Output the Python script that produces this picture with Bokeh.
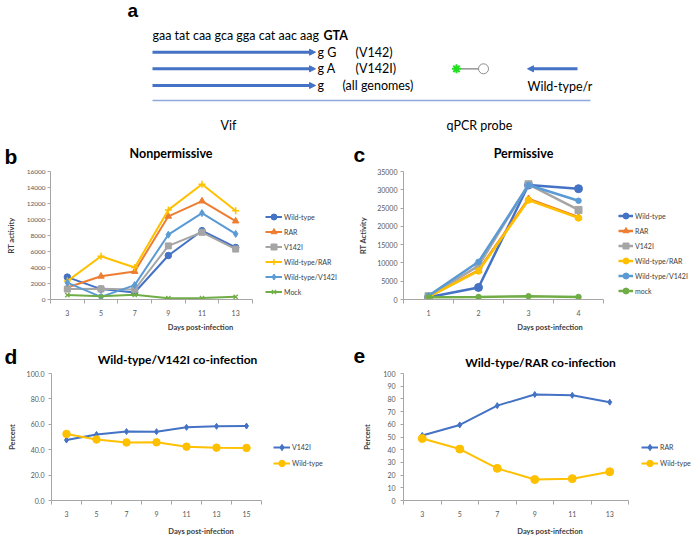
from bokeh.plotting import figure
from bokeh.models import (Range1d, FixedTicker, Legend, LegendItem, Arrow,
                          NormalHead, NumeralTickFormatter)
from bokeh.layouts import column, row
from bokeh.embed import file_html
from bokeh.resources import INLINE
from bokeh.core.properties import value

FONT = "Lato"
LETTER_FONT = "Liberation Sans"

# ---------------- data ----------------
# Panel b: Nonpermissive (RT activity)
days_b = [3, 5, 7, 9, 11, 13]
b_wild_type = [2800, 1300, 880, 5500, 8600, 6500]
b_rar = [1500, 2900, 3500, 10400, 12300, 9800]
b_v142i = [1300, 1330, 1250, 6700, 8400, 6300]
b_wt_rar = [2300, 5400, 4000, 11200, 14400, 11100]
b_wt_v142i = [2100, 330, 1800, 8100, 10800, 8200]
b_mock = [550, 400, 580, 170, 180, 330]

# Panel c: Permissive (RT Activity)
days_c = [1, 2, 3, 4]
c_wild_type = [600, 3300, 31300, 30300]
c_rar = [800, 8000, 27500, 22500]
c_v142i = [900, 9200, 31500, 24500]
c_wt_rar = [700, 7800, 27200, 22300]
c_wt_v142i = [1000, 10300, 31300, 27000]
c_mock = [600, 700, 900, 700]

# Panel d: Wild-type/V142I co-infection (percent)
days_d = [3, 5, 7, 9, 11, 13, 15]
d_v142i = [47.6, 52.0, 54.3, 54.2, 57.6, 58.4, 58.6]
d_wild_type = [52.4, 48.0, 45.7, 45.8, 42.4, 41.6, 41.4]

# Panel e: Wild-type/RAR co-infection (percent)
days_e = [3, 5, 7, 9, 11, 13]
e_rar = [51.2, 59.5, 74.7, 83.5, 82.8, 77.4]
e_wild_type = [48.8, 40.5, 25.3, 16.5, 17.2, 22.6]

# Panel a schematic texts
seq_plain = "gaa tat caa gca gga cat aac aag"
seq_bold = "GTA"
primer_ends = ["g G", "g A", "g"]
primer_names = ["(V142)", "(V142I)", "(all genomes)"]

BLUE = "#4472C4"
ORANGE = "#ED7D31"
GRAY = "#A5A5A5"
GOLD = "#FFC000"
LBLUE = "#5B9BD5"
GREEN = "#70AD47"
AXIS = "#A6A6A6"
TICKTXT = "#595959"
TXT = "#404040"
A_FS = "12.5px"


def chart(fx, fy, width, height, fl, ft, fb, axis_r, cats, y_max, y_step, ylabel,
          ytick_fs="7px", y_fmt=None, ylab_standoff=8, ytick_standoff=3,
          xlab_standoff=4):
    step = cats[1] - cats[0]
    lo = cats[0] - step / 2
    hi = cats[-1] + step / 2
    frame_w = fx + width - fl
    hi_ext = lo + (hi - lo) * frame_w / (axis_r - fl)
    p = figure(width=width, height=height, x_range=Range1d(lo, hi_ext),
               y_range=Range1d(0, y_max), output_backend="svg",
               toolbar_location=None, min_border_left=fl - fx, min_border_right=0,
               min_border_top=ft - fy, min_border_bottom=fy + height - fb)
    p.outline_line_color = None
    p.grid.visible = False
    bounds = [lo + step * i for i in range(len(cats) + 1)]
    xa = p.xaxis[0]
    xa.bounds = (lo, hi)
    xa.ticker = FixedTicker(ticks=cats, minor_ticks=bounds)
    xa.major_tick_in = 0
    xa.major_tick_out = 0
    xa.minor_tick_in = 0
    xa.minor_tick_out = 4
    xa.minor_tick_line_color = AXIS
    xa.axis_line_color = AXIS
    xa.major_label_text_font = FONT
    xa.major_label_text_font_size = "7px"
    xa.major_label_text_color = TICKTXT
    xa.major_label_standoff = 6
    xa.axis_label = "Days post-infection"
    xa.axis_label_text_font = FONT
    xa.axis_label_text_font_size = "7.5px"
    xa.axis_label_text_font_style = "bold"
    xa.axis_label_text_color = TXT
    xa.axis_label_standoff = xlab_standoff
    ya = p.yaxis[0]
    nt = int(round(y_max / y_step))
    ya.ticker = FixedTicker(ticks=[y_step * i for i in range(nt + 1)], minor_ticks=[])
    ya.major_tick_in = 0
    ya.major_tick_out = 3
    ya.minor_tick_in = 0
    ya.minor_tick_out = 0
    ya.major_tick_line_color = AXIS
    ya.axis_line_color = AXIS
    ya.major_label_text_font = FONT
    ya.major_label_text_font_size = ytick_fs
    ya.major_label_text_color = TICKTXT
    ya.major_label_standoff = ytick_standoff
    if y_fmt:
        ya.formatter = NumeralTickFormatter(format=y_fmt)
    ya.axis_label = ylabel
    ya.axis_label_text_font = FONT
    ya.axis_label_text_font_size = "7.5px"
    ya.axis_label_text_font_style = "bold"
    ya.axis_label_text_color = TXT
    ya.axis_label_standoff = ylab_standoff
    return p


def strip(fx, fy, width, height):
    s = figure(width=width, height=height, x_range=Range1d(fx, fx + width),
               y_range=Range1d(fy + height, fy), output_backend="svg",
               toolbar_location=None, x_axis_type=None, y_axis_type=None,
               min_border=0)
    s.outline_line_color = None
    s.grid.visible = False
    return s


def stext(s, x, y, text, size, bold=True, font=FONT, align="left", color="#000000"):
    s.text(x=[x], y=[y], text=[text], text_font=value(font), text_font_size=size,
           text_font_style="bold" if bold else "normal", text_align=align,
           text_baseline="middle", text_color=color)


def series(p, items, x, y, color, marker, size, lw, name, mlw=1):
    lr = p.line(x, y, line_color=color, line_width=lw)
    sr = p.scatter(x, y, marker=marker, size=size, fill_color=color,
                   line_color=color, line_width=mlw)
    items.append(LegendItem(label=name, renderers=[lr, sr]))


def legend(p, items, vx, vy, gw, gh, standoff=2):
    lg = Legend(items=items, location=(vx, vy), orientation="vertical",
                glyph_width=gw, glyph_height=gh, label_height=gh, spacing=0,
                padding=0, margin=0, label_standoff=standoff,
                border_line_color=None, background_fill_alpha=0,
                label_text_font=FONT, label_text_font_size="7px",
                label_text_color=TXT)
    p.add_layout(lg)


# ---------------- panel a (schematic) ----------------
pa = strip(0, 0, 696, 140)
stext(pa, 127, 9.5, "a", "19px", font=LETTER_FONT)
stext(pa, 152, 35, seq_plain, A_FS, bold=False)
stext(pa, 323, 35, seq_bold, A_FS)
arrow_y = [51.7, 68.3, 85]
for yy, e_txt, n_txt, nx in zip(arrow_y, primer_ends, primer_names, [355, 355, 342]):
    pa.add_layout(Arrow(end=NormalHead(size=6, fill_color=BLUE, line_color=BLUE),
                        x_start=152, y_start=yy, x_end=315, y_end=yy,
                        line_color=BLUE, line_width=3))
    stext(pa, 317, yy, e_txt, A_FS, bold=False)
    stext(pa, nx, yy, n_txt, A_FS, bold=False)
pa.segment(x0=[460], y0=[68.3], x1=[478], y1=[68.3], line_color="#7f7f7f", line_width=1.2)
pa.scatter(x=[456], y=[68.3], marker="asterisk", size=9, line_color="#22dd22", line_width=2)
pa.scatter(x=[483], y=[68.3], marker="circle", size=10, fill_color="white",
           line_color="#8c8c8c", line_width=1)
pa.add_layout(Arrow(end=NormalHead(size=6, fill_color=BLUE, line_color=BLUE),
                    x_start=577, y_start=68.3, x_end=527, y_end=68.3,
                    line_color=BLUE, line_width=3))
stext(pa, 527, 86, "Wild-type/r", A_FS, bold=False)
pa.segment(x0=[152], y0=[100], x1=[590], y1=[100], line_color="#8EA9DB", line_width=1.5)
stext(pa, 220, 125, "Vif", A_FS, bold=False)
stext(pa, 446, 125, "qPCR probe", A_FS, bold=False)

# ---------------- row 1 headings (b, c) ----------------
s1 = strip(0, 140, 696, 26)
stext(s1, 4, 155.5, "b", "21px", font=LETTER_FONT)
stext(s1, 170.5, 153, "Nonpermissive", "12.5px", align="center")
stext(s1, 353, 154, "c", "21px", font=LETTER_FONT)
stext(s1, 523, 153, "Permissive", "12.5px", align="center")

# ---------------- panel b ----------------
pb = chart(0, 166, 350, 172, 50, 171, 299, 252, days_b, 16000, 2000, "RT activity",
           ytick_fs="6.5px", ylab_standoff=8, ytick_standoff=2)
items = []
series(pb, items, days_b, b_wild_type, BLUE, "circle", 6.5, 2, "Wild-type")
series(pb, items, days_b, b_rar, ORANGE, "triangle", 6.5, 2, "RAR")
series(pb, items, days_b, b_v142i, GRAY, "square", 6, 2, "V142I")
series(pb, items, days_b, b_wt_rar, GOLD, "cross", 7, 2, "Wild-type/RAR", mlw=1.5)
series(pb, items, days_b, b_wt_v142i, LBLUE, "diamond", 7, 2, "Wild-type/V142I")
series(pb, items, days_b, b_mock, GREEN, "x", 6, 2, "Mock", mlw=1.3)
legend(pb, items, 215, 0, 17, 15)

# ---------------- panel c ----------------
pc = chart(350, 166, 346, 172, 403, 171, 299, 603, days_c, 35000, 5000, "RT Activity",
           ytick_fs="7px", ylab_standoff=6, ytick_standoff=3)
items = []
series(pc, items, days_c, c_wild_type, BLUE, "circle", 8, 2.5, "Wild-type")
series(pc, items, days_c, c_rar, ORANGE, "triangle", 7, 2.5, "RAR")
series(pc, items, days_c, c_v142i, GRAY, "square", 7, 2.5, "V142I")
series(pc, items, days_c, c_wt_rar, GOLD, "circle", 6.5, 2.5, "Wild-type/RAR")
series(pc, items, days_c, c_wt_v142i, LBLUE, "circle", 5.5, 2.5, "Wild-type/V142I")
series(pc, items, days_c, c_mock, GREEN, "circle", 5.5, 2.5, "mock")
legend(pc, items, 215, 1, 15, 15)

# ---------------- row 2 headings (d, e) ----------------
s2 = strip(0, 338, 696, 31)
stext(s2, 4, 355.5, "d", "21px", font=LETTER_FONT)
stext(s2, 177, 358.5, "Wild-type/V142I co-infection", "12px", align="center")
stext(s2, 353, 355.5, "e", "21px", font=LETTER_FONT)
stext(s2, 540, 361.5, "Wild-type/RAR co-infection", "12px", align="center")

# ---------------- panel d ----------------
pd_ = chart(0, 369, 350, 169, 51, 373, 500, 261, days_d, 100, 20, "Percent",
            ytick_fs="7px", y_fmt="0.0", ylab_standoff=7, ytick_standoff=4,
            xlab_standoff=7)
items = []
series(pd_, items, days_d, d_v142i, BLUE, "diamond", 6, 2, "V142I")
series(pd_, items, days_d, d_wild_type, GOLD, "circle", 7.5, 2, "Wild-type")
legend(pd_, items, 222, 29, 17, 16)

# ---------------- panel e ----------------
pe = chart(350, 369, 346, 169, 403, 373, 500, 628, days_e, 100, 10, "Percent",
           ytick_fs="7px", ylab_standoff=8, ytick_standoff=5, xlab_standoff=7)
items = []
series(pe, items, days_e, e_rar, BLUE, "diamond", 6, 2, "RAR")
series(pe, items, days_e, e_wild_type, GOLD, "circle", 8, 2, "Wild-type")
legend(pe, items, 238, 29, 17, 16)

layout = column(
    pa,
    s1,
    row(pb, pc, spacing=0),
    s2,
    row(pd_, pe, spacing=0),
    spacing=0,
)
open("out.html", "w").write(file_html(layout, INLINE))
